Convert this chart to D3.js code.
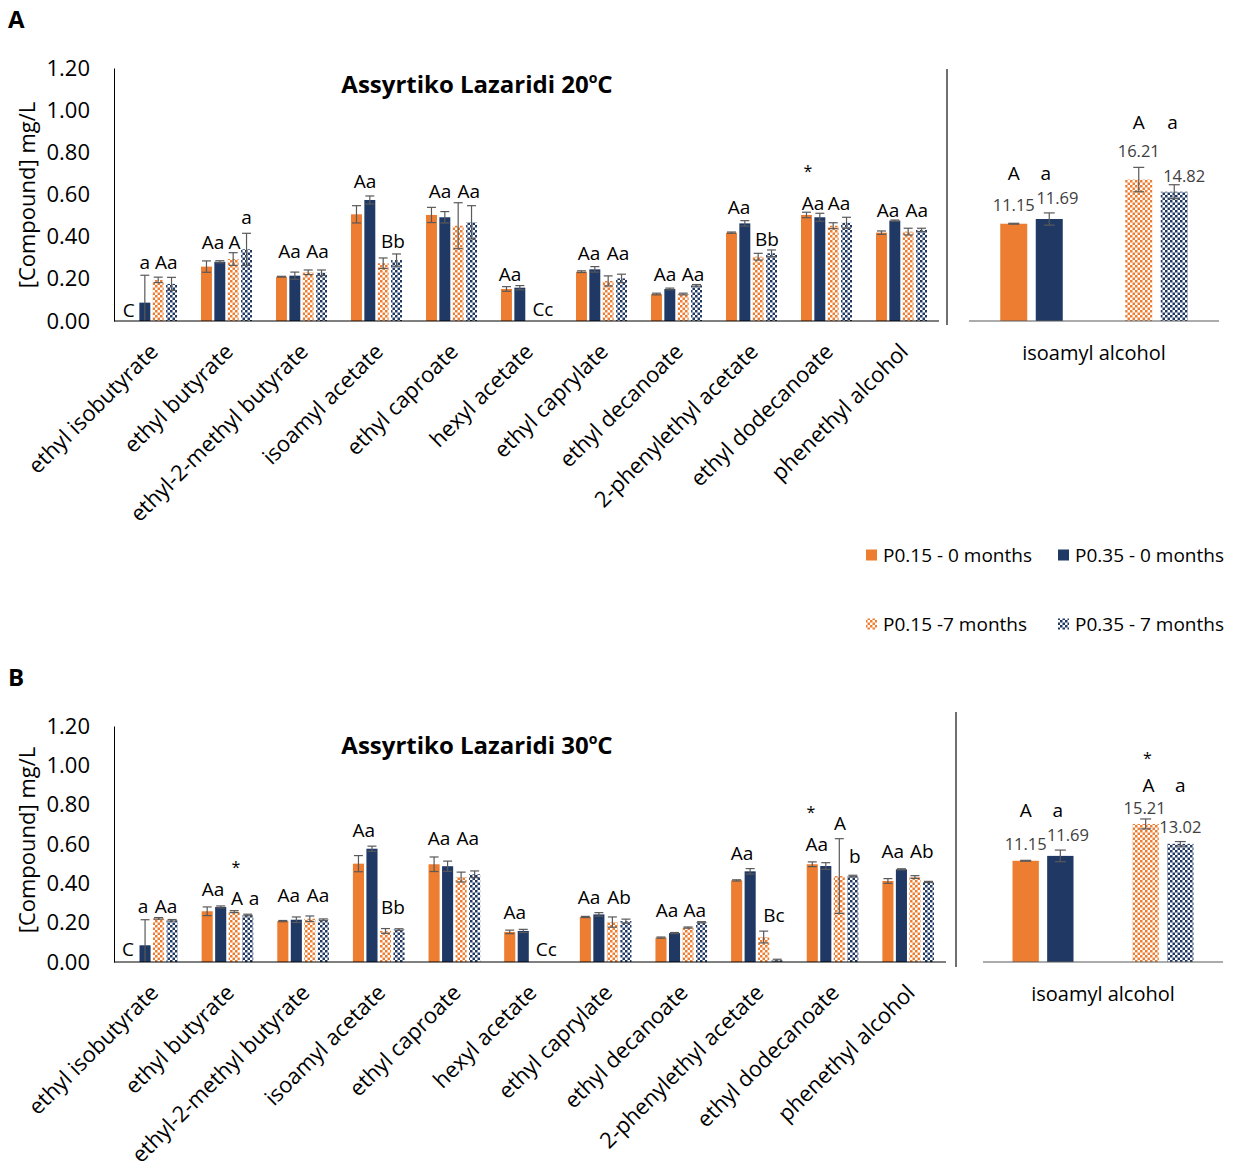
<!DOCTYPE html>
<html><head><meta charset="utf-8">
<script src="https://cdn.jsdelivr.net/npm/d3@7"></script>
<style>body{margin:0;background:#fff}svg{display:block}text{font-family:"Open Sans",sans-serif}</style>
</head><body><svg id="c" width="1234" height="1171"></svg>
<script>
// ---------------- DATA ----------------
const categories = ["ethyl isobutyrate","ethyl butyrate","ethyl-2-methyl butyrate","isoamyl acetate","ethyl caproate","hexyl acetate","ethyl caprylate","ethyl decanoate","2-phenylethyl acetate","ethyl dodecanoate","phenethyl alcohol"];
const seriesNames = ["P0.15 - 0 months","P0.35 - 0 months","P0.15 -7 months","P0.35 - 7 months"];
const yTicks = [0,0.2,0.4,0.6,0.8,1.0,1.2];
const alcoholCategory = "isoamyl alcohol";

// Panel A - 20ºC
const A_p015_0m = [0,0.258,0.210,0.506,0.503,0.152,0.234,0.128,0.419,0.503,0.419];
const A_p035_0m = [0.087,0.281,0.215,0.574,0.492,0.158,0.245,0.152,0.463,0.492,0.476];
const A_p015_7m = [0.195,0.294,0.231,0.274,0.452,0,0.190,0.128,0.305,0.452,0.424];
const A_p035_7m = [0.176,0.340,0.229,0.289,0.468,0,0.202,0.169,0.321,0.466,0.432];
const A_err_p015_0m = [0,0.027,0.002,0.041,0.036,0.011,0.004,0.004,0.003,0.013,0.008];
const A_err_p035_0m = [0.13,0.005,0.017,0.019,0.027,0.010,0.013,0.004,0.013,0.019,0.003];
const A_err_p015_7m = [0.013,0.030,0.011,0.025,0.109,0,0.024,0.004,0.016,0.014,0.016];
const A_err_p035_7m = [0.031,0.076,0.013,0.029,0.079,0,0.020,0.004,0.016,0.026,0.008];
const A_alcohol = [11.15,11.69,16.21,14.82];
const A_alcohol_err = [0.05,0.7,1.4,0.8];
// letters: [category index, bar slot, value level, text]
const A_letters = [
 [0,-0.2,0.052,"C"],[0,1,0.28,"a"],[0,2.6,0.28,"Aa"],
 [1,0.5,0.375,"Aa"],[1,2.1,0.375,"A"],[1,3,0.493,"a"],
 [2,0.6,0.329,"Aa"],[2,2.7,0.329,"Aa"],
 [3,0.64,0.661,"Aa"],[3,2.73,0.380,"Bb"],
 [4,0.64,0.617,"Aa"],[4,2.8,0.617,"Aa"],
 [5,0.26,0.223,"Aa"],[5,2.73,0.057,"Cc"],
 [6,0.56,0.323,"Aa"],[6,2.73,0.323,"Aa"],
 [7,0.64,0.223,"Aa"],[7,2.73,0.223,"Aa"],
 [8,0.56,0.542,"Aa"],[8,2.65,0.389,"Bb"],
 [9,0.1,0.726,"*"],[9,0.5,0.561,"Aa"],[9,2.43,0.561,"Aa"],
 [10,0.49,0.527,"Aa"],[10,2.65,0.527,"Aa"]
];
// alcohol letters: [series, slot offset, value level, text]
const A_alc_letters = [[0,0,16.97,"A"],[1,-0.1,16.97,"a"],[2,0,22.74,"A"],[3,-0.05,22.74,"a"]];
// alcohol value labels: [series, slot offset, value level]
const A_alc_valuelabels = [[0,0,13.3],[1,0.23,14.1],[2,0,19.53],[3,0.28,16.63]];

// Panel B - 30ºC
const B_p015_0m = [0,0.258,0.208,0.500,0.497,0.153,0.229,0.124,0.415,0.497,0.412];
const B_p035_0m = [0.085,0.280,0.215,0.576,0.487,0.158,0.242,0.147,0.461,0.488,0.471];
const B_p015_7m = [0.222,0.256,0.220,0.158,0.432,0,0.203,0.175,0.127,0.437,0.432];
const B_p035_7m = [0.212,0.239,0.215,0.165,0.446,0,0.208,0.202,0.009,0.437,0.407];
const B_err_p015_0m = [0,0.022,0.003,0.041,0.037,0.009,0.003,0.003,0.003,0.012,0.012];
const B_err_p035_0m = [0.13,0.005,0.014,0.013,0.026,0.008,0.009,0.003,0.014,0.017,0.003];
const B_err_p015_7m = [0.004,0.005,0.014,0.012,0.025,0,0.026,0.003,0.030,0.19,0.007];
const B_err_p035_7m = [0.004,0.004,0.004,0.004,0.017,0,0.010,0.003,0.005,0.004,0.003];
const B_alcohol = [11.15,11.69,15.21,13.02];
const B_alcohol_err = [0.05,0.64,0.55,0.25];
const B_letters = [
 [0,-0.27,0.065,"C"],[0,0.85,0.283,"a"],[0,2.55,0.283,"Aa"],
 [1,0.43,0.370,"Aa"],[1,2.13,0.497,"*"],[1,2.2,0.325,"A"],[1,3.47,0.325,"a"],
 [2,0.45,0.339,"Aa"],[2,2.6,0.339,"Aa"],
 [3,0.4,0.670,"Aa"],[3,2.55,0.280,"Bb"],
 [4,0.36,0.630,"Aa"],[4,2.5,0.630,"Aa"],
 [5,0.38,0.254,"Aa"],[5,2.7,0.065,"Cc"],
 [6,0.27,0.329,"Aa"],[6,2.5,0.329,"Ab"],
 [7,0.44,0.266,"Aa"],[7,2.5,0.266,"Aa"],
 [8,0.4,0.554,"Aa"],[8,2.76,0.237,"Bc"],
 [9,-0.1,0.776,"*"],[9,0.34,0.598,"Aa"],[9,2.05,0.704,"A"],[9,3.15,0.537,"b"],
 [10,0.37,0.564,"Aa"],[10,2.5,0.564,"Ab"]
];
const B_alc_letters = [[0,0,16.7,"A"],[1,-0.07,16.7,"a"],[2,0.05,22.8,"*"],[2,0.08,19.5,"A"],[3,0,19.5,"a"]];
const B_alc_valuelabels = [[0,0,13.0],[1,0.22,14.0],[2,-0.03,17.0],[3,0,14.87]];

// ---------------- DRAW ----------------
const ORANGE = "#ED7D31", NAVY = "#1F3864";
const svg = d3.select("#c");
const defs = svg.append("defs");
function checker(id, color){
  const c = 2.5;
  const p = defs.append("pattern").attr("id",id).attr("patternUnits","userSpaceOnUse").attr("width",2*c).attr("height",2*c);
  p.append("rect").attr("width",2*c).attr("height",2*c).attr("fill","#fff");
  p.append("rect").attr("width",c).attr("height",c).attr("fill",color);
  p.append("rect").attr("x",c).attr("y",c).attr("width",c).attr("height",c).attr("fill",color);
}
checker("chkO", ORANGE); checker("chkN", NAVY);
const fills = [ORANGE, NAVY, "url(#chkO)", "url(#chkN)"];
const ERR = "#595959";

function drawPanel(cfg){
  const g = svg.append("g");
  // panel letter + title
  g.append("text").attr("x",8).attr("y",cfg.letterY).attr("font-size",24).attr("font-weight","bold").text(cfg.letter);
  const t = g.append("text").attr("x",477).attr("y",cfg.titleY).attr("text-anchor","middle").attr("font-size",24).attr("font-weight","bold").attr("dy","0.36em");
  t.append("tspan").text(cfg.title);
  t.append("tspan").attr("font-size",14).attr("dy",-10).text("o");
  t.append("tspan").attr("dy",10).text("C");

  const x0 = d3.scaleBand().domain(categories).range([cfg.xLeft, cfg.xRight]).padding(0);
  const x1 = d3.scaleBand().domain(d3.range(4)).range([12, x0.bandwidth()-12]).paddingInner(0.18);
  const y = d3.scaleLinear().domain([0,1.2]).range([cfg.yBottom, cfg.yTop]);

  // y axis
  const ax = g.append("g").attr("transform",`translate(${cfg.xLeft},0)`)
    .call(d3.axisLeft(y).tickValues(yTicks).tickFormat(d3.format(".2f")).tickSize(0).tickSizeOuter(0).tickPadding(24));
  ax.select(".domain").attr("stroke","#000").attr("stroke-width",1);
  ax.selectAll("text").attr("font-size",22).attr("fill","#000").attr("font-family","Open Sans");
  g.append("text").attr("transform",`translate(27,${cfg.axisTitleY}) rotate(-90)`).attr("text-anchor","middle").attr("dy","0.36em")
    .attr("font-size",22).text("[Compound] mg/L");

  // bars
  cfg.values.forEach((vals, s) => {
    g.append("g").selectAll("rect").data(vals).join("rect")
      .attr("x",(d,i)=>x0(categories[i])+x1(s)).attr("width",x1.bandwidth())
      .attr("y",d=>y(d)).attr("height",d=>y(0)-y(d)).attr("fill",fills[s]);
  });
  // error bars
  cfg.errors.forEach((errs, s) => {
    errs.forEach((e,i)=>{
      const v = cfg.values[s][i]; if(!(e>0)) return;
      const cx = x0(categories[i])+x1(s)+x1.bandwidth()/2;
      const lo = Math.max(0,v-e), hi = v+e;
      g.append("line").attr("x1",cx).attr("x2",cx).attr("y1",y(lo)).attr("y2",y(hi)).attr("stroke",ERR).attr("stroke-width",1.2);
      g.append("line").attr("x1",cx-4.5).attr("x2",cx+4.5).attr("y1",y(hi)).attr("y2",y(hi)).attr("stroke",ERR).attr("stroke-width",1.2);
      if(v-e>0) g.append("line").attr("x1",cx-4.5).attr("x2",cx+4.5).attr("y1",y(lo)).attr("y2",y(lo)).attr("stroke",ERR).attr("stroke-width",1.2);
    });
  });
  // baseline
  g.append("line").attr("x1",cfg.xLeft).attr("x2",cfg.xRight).attr("y1",y(0)).attr("y2",y(0)).attr("stroke","#000").attr("stroke-width",1);
  // letters
  g.append("g").selectAll("text").data(cfg.letters).join("text")
    .attr("x",d=>x0(categories[d[0]])+x1(0)+x1.bandwidth()/2+d[1]*x1.step())
    .attr("y",d=>y(d[2])).attr("dy",d=>d[3]==="*"?"0.55em":"0.36em")
    .attr("text-anchor","middle").attr("font-size",d=>d[3]==="*"?16:19).attr("fill","#000").text(d=>d[3]);
  // category labels
  g.append("g").selectAll("text").data(categories).join("text")
    .attr("transform",d=>`translate(${x0(d)+x0.bandwidth()/2+8},${cfg.yBottom+32}) rotate(-45)`)
    .attr("text-anchor","end").attr("font-size",22).attr("fill","#000").text(d=>d);

  // separator
  g.append("line").attr("x1",cfg.sepX).attr("x2",cfg.sepX).attr("y1",cfg.sepTop).attr("y2",cfg.sepBottom).attr("stroke","#404040").attr("stroke-width",1.5);

  // right panel: isoamyl alcohol
  const times = ["0 months","7 months"], press = ["P0.15","P0.35"];
  const gx = d3.scaleBand().domain(times).range([cfg.rLeft, cfg.rRight]);
  const ix = d3.scaleBand().domain(press).range([cfg.innerPad, gx.bandwidth()-cfg.innerPad]).paddingInner(0.24);
  const yr = d3.scaleLinear().domain([0, cfg.rMax]).range([cfg.yBottom, cfg.yTop]);
  const bx = s => gx(times[s>>1]) + ix(press[s&1]);
  g.append("g").selectAll("rect").data(cfg.alc).join("rect")
    .attr("x",(d,s)=>bx(s)).attr("width",ix.bandwidth()).attr("y",d=>yr(d)).attr("height",d=>yr(0)-yr(d)).attr("fill",(d,s)=>fills[s]);
  cfg.alcErr.forEach((e,s)=>{
    const v = cfg.alc[s], cx = bx(s)+ix.bandwidth()/2;
    g.append("line").attr("x1",cx).attr("x2",cx).attr("y1",yr(v-e)).attr("y2",yr(v+e)).attr("stroke",ERR).attr("stroke-width",1.2);
    [v-e,v+e].forEach(w=>g.append("line").attr("x1",cx-5.5).attr("x2",cx+5.5).attr("y1",yr(w)).attr("y2",yr(w)).attr("stroke",ERR).attr("stroke-width",1.2));
  });
  g.append("line").attr("x1",cfg.rLeft).attr("x2",cfg.rRight).attr("y1",yr(0)).attr("y2",yr(0)).attr("stroke","#595959").attr("stroke-width",1);
  g.append("g").selectAll("text").data(cfg.alcLetters).join("text")
    .attr("x",d=>bx(d[0])+ix.bandwidth()/2+d[1]*ix.step()).attr("y",d=>yr(d[2]))
    .attr("dy",d=>d[3]==="*"?"0.55em":"0.36em").attr("text-anchor","middle").attr("font-size",d=>d[3]==="*"?16:19).attr("fill","#000").text(d=>d[3]);
  g.append("g").selectAll("text").data(cfg.alcValLabels).join("text")
    .attr("x",d=>bx(d[0])+ix.bandwidth()/2+d[1]*ix.step()).attr("y",d=>yr(d[2]))
    .attr("dy","0.36em").attr("text-anchor","middle").attr("font-size",16.5).attr("fill","#404040")
    .text(d=>d3.format(".2f")(cfg.alc[d[0]]));
  g.append("text").attr("x",(cfg.rLeft+cfg.rRight)/2).attr("y",cfg.yBottom+32).attr("dy","0.36em").attr("text-anchor","middle")
    .attr("font-size",20).attr("fill","#000").text(alcoholCategory);
}

drawPanel({letter:"A", letterY:28, title:"Assyrtiko Lazaridi 20", titleY:84, axisTitleY:195,
  xLeft:114, xRight:939, yTop:68, yBottom:321, sepX:947, sepTop:69, sepBottom:325,
  rLeft:969, rRight:1219, innerPad:31.25, rMax:29,
  values:[A_p015_0m,A_p035_0m,A_p015_7m,A_p035_7m],
  errors:[A_err_p015_0m,A_err_p035_0m,A_err_p015_7m,A_err_p035_7m],
  letters:A_letters, alc:A_alcohol, alcErr:A_alcohol_err, alcLetters:A_alc_letters, alcValLabels:A_alc_valuelabels});

drawPanel({letter:"B", letterY:686, title:"Assyrtiko Lazaridi 30", titleY:745, axisTitleY:840,
  xLeft:114, xRight:946, yTop:726, yBottom:962, sepX:956, sepTop:712, sepBottom:967,
  rLeft:983, rRight:1223, innerPad:29.5, rMax:26,
  values:[B_p015_0m,B_p035_0m,B_p015_7m,B_p035_7m],
  errors:[B_err_p015_0m,B_err_p035_0m,B_err_p015_7m,B_err_p035_7m],
  letters:B_letters, alc:B_alcohol, alcErr:B_alcohol_err, alcLetters:B_alc_letters, alcValLabels:B_alc_valuelabels});

// legend
const legX = [866, 1058], legY = [555, 624];
const lg = svg.append("g");
seriesNames.forEach((n,s)=>{
  const lx = legX[s%2], ly = legY[s>>1];
  lg.append("rect").attr("x",lx).attr("y",ly-5.5).attr("width",11).attr("height",11).attr("fill",fills[s]);
  lg.append("text").attr("x",lx+17).attr("y",ly).attr("dy","0.36em").attr("font-size",19).attr("fill","#000").text(n);
});
</script></body></html>
